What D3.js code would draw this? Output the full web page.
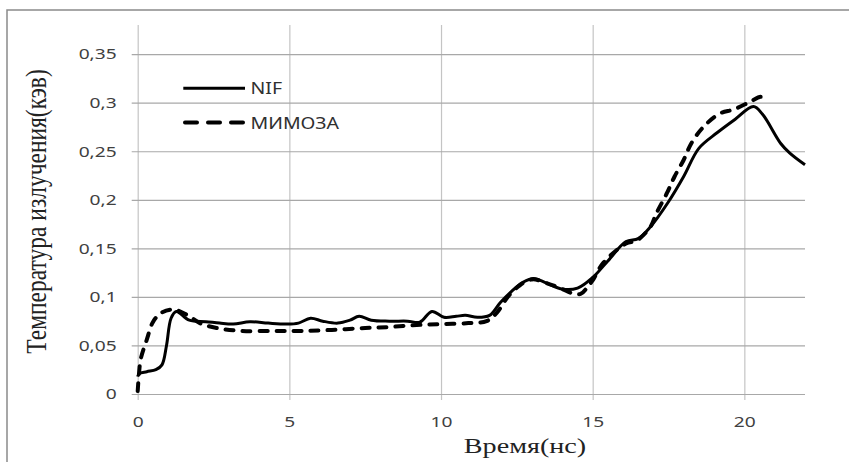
<!DOCTYPE html>
<html>
<head>
<meta charset="utf-8">
<script src="https://cdn.jsdelivr.net/npm/d3@7"></script>
<style>
  body { margin: 0; background: #fff; }
  svg { display: block; }
  .serif { font-family: "Liberation Serif", "Times New Roman", Tinos, "DejaVu Serif", serif; }
  .sans { font-family: "Noto Sans", "Open Sans", sans-serif; }
</style>
</head>
<body>
<div id="chart"></div>
<script>
// Время (нс) и температура (кэВ)
const nifTime = [0, 0.05, 0.3, 0.6, 0.8, 0.95, 1.1, 1.27, 1.7, 2.25, 2.7, 3.15, 3.7, 4.3, 4.9, 5.3, 5.7, 6.1, 6.6, 7.0, 7.3, 7.7, 8.3, 8.9, 9.3, 9.7, 10.1, 10.5, 10.8, 11.2, 11.6, 11.95, 12.3, 12.7, 13.05, 13.5, 14.0, 14.5, 15.0, 15.5, 16.1, 16.5, 16.9, 17.5, 18.0, 18.5, 19.1, 19.7, 20.3, 20.6, 21.2, 21.5, 22.0];
const nifTemp = [0.018, 0.021, 0.023, 0.025, 0.030, 0.050, 0.078, 0.085, 0.076, 0.0745, 0.073, 0.072, 0.0745, 0.073, 0.072, 0.073, 0.078, 0.075, 0.073, 0.076, 0.080, 0.076, 0.075, 0.075, 0.074, 0.085, 0.079, 0.080, 0.081, 0.079, 0.081, 0.094, 0.105, 0.115, 0.119, 0.114, 0.108, 0.109, 0.120, 0.137, 0.157, 0.160, 0.172, 0.198, 0.224, 0.253, 0.269, 0.283, 0.296, 0.288, 0.258, 0.248, 0.236];

const mimTime = [0, 0.04, 0.1, 0.3, 0.5, 0.75, 1.15, 1.6, 2.05, 2.6, 3.4, 4.5, 5.4, 6.4, 7.5, 8.3, 9.2, 10.0, 10.9, 11.5, 11.85, 12.2, 12.6, 13.0, 13.5, 14.0, 14.3, 14.6, 14.85, 15.0, 15.35, 16.1, 16.45, 16.9, 17.1, 17.45, 17.7, 18.0, 18.25, 18.65, 19.2, 19.65, 20.2, 20.55, 20.8];
const mimTemp = [0.003, 0.02, 0.036, 0.056, 0.074, 0.083, 0.087, 0.082, 0.073, 0.068, 0.065, 0.065, 0.065, 0.066, 0.068, 0.069, 0.071, 0.072, 0.073, 0.075, 0.084, 0.100, 0.112, 0.118, 0.114, 0.108, 0.104, 0.103, 0.111, 0.117, 0.135, 0.155, 0.158, 0.172, 0.186, 0.207, 0.224, 0.241, 0.258, 0.275, 0.289, 0.293, 0.301, 0.306, 0.302];

const xTicks = [0, 5, 10, 15, 20];
const yTicks = [0, 0.05, 0.1, 0.15, 0.2, 0.25, 0.3, 0.35];
const seriesNames = ['NIF', 'МИМОЗА'];

// картинка растянута по горизонтали, текст тоже
const SX = 1.28;

const margin = {top: 25, left: 137.7};
const width = 667.3;
const height = 369;

const svg = d3.select('#chart')
    .append('svg')
    .attr('width', 849)
    .attr('height', 462);

// рамка (правый и нижний край за кадром)
svg.append('rect')
    .attr('x', 7)
    .attr('y', 10)
    .attr('width', 900)
    .attr('height', 500)
    .attr('fill', 'none')
    .attr('stroke', '#8a8a8a')
    .attr('stroke-width', 1.5);

const g = svg.append('g')
    .attr('transform', `translate(${margin.left},${margin.top})`);

const x = d3.scaleLinear().domain([0, 22]).range([0, width]);
const y = d3.scaleLinear().domain([0, 0.38]).range([height, 0]);

const fmt = d => d3.format('~g')(d).replace('.', ',');

// ось X + вертикальная сетка
const xAxis = g.append('g')
    .attr('transform', `translate(0,${height})`)
    .call(d3.axisBottom(x).tickValues(xTicks).tickSize(-height).tickPadding(22).tickFormat(fmt));
xAxis.attr('font-family', null).attr('font-size', null);
xAxis.select('.domain').remove();
xAxis.selectAll('line').attr('y1', 6).attr('stroke', '#c4c4c4').attr('stroke-width', 1.2);
xAxis.selectAll('text')
    .attr('class', 'sans')
    .attr('transform', `scale(${SX},1)`)
    .attr('fill', '#404040')
    .style('font-size', '15px');

// ось Y + горизонтальная сетка
const yAxis = g.append('g')
    .call(d3.axisLeft(y).tickValues(yTicks).tickSize(-width).tickPadding(0).tickFormat(fmt));
yAxis.attr('font-family', null).attr('font-size', null);
yAxis.select('.domain').remove();
yAxis.selectAll('line').attr('x1', -6).attr('stroke', '#a8a8a8').attr('stroke-width', 1.2);
yAxis.selectAll('text')
    .attr('class', 'sans')
    .attr('x', -21 / SX)
    .attr('transform', `scale(${SX},1)`)
    .attr('fill', '#404040')
    .style('font-size', '15px');

// линии
const line = d3.line()
    .x(d => x(d[0]))
    .y(d => y(d[1]))
    .curve(d3.curveCatmullRom.alpha(0.5));

const nifData = nifTime.map((t, i) => [t, nifTemp[i]]);
const mimData = mimTime.map((t, i) => [t, mimTemp[i]]);

g.append('path')
    .datum(nifData)
    .attr('d', line)
    .attr('fill', 'none')
    .attr('stroke', '#000')
    .attr('stroke-width', 3)
    .attr('stroke-linejoin', 'round');

g.append('path')
    .datum(mimData)
    .attr('d', line)
    .attr('fill', 'none')
    .attr('stroke', '#000')
    .attr('stroke-width', 4)
    .attr('stroke-linecap', 'round')
    .attr('stroke-dasharray', '8,9');

// легенда
const legend = svg.append('g');
const legendRows = [
    {name: seriesNames[0], y: 88.3, dash: null, w: 3},
    {name: seriesNames[1], y: 122.5, dash: '12,11', w: 4}
];
legendRows.forEach(r => {
    legend.append('line')
        .attr('x1', r.dash ? 185 : 183.3)
        .attr('x2', r.dash ? 243 : 245)
        .attr('y1', r.y)
        .attr('y2', r.y)
        .attr('stroke', '#000')
        .attr('stroke-width', r.w)
        .attr('stroke-linecap', r.dash ? 'round' : 'butt')
        .attr('stroke-dasharray', r.dash);
    legend.append('text')
        .attr('class', 'sans')
        .attr('transform', `translate(250.5,${r.y + 6}) scale(1.22,1)`)
        .attr('fill', '#303030')
        .style('font-size', '16px')
        .text(r.name);
});

// подписи осей
svg.append('text')
    .attr('class', 'serif')
    .attr('transform', `translate(525,453) scale(${SX},1)`)
    .attr('text-anchor', 'middle')
    .attr('fill', '#222')
    .style('font-size', '22px')
    .text('Время(нс)');

svg.append('text')
    .attr('class', 'serif')
    .attr('transform', `translate(46,211.5) scale(${SX},1) rotate(-90)`)
    .attr('text-anchor', 'middle')
    .attr('fill', '#222')
    .style('font-size', '23.5px')
    .text('Температура излучения(кэв)');
</script>
</body>
</html>
